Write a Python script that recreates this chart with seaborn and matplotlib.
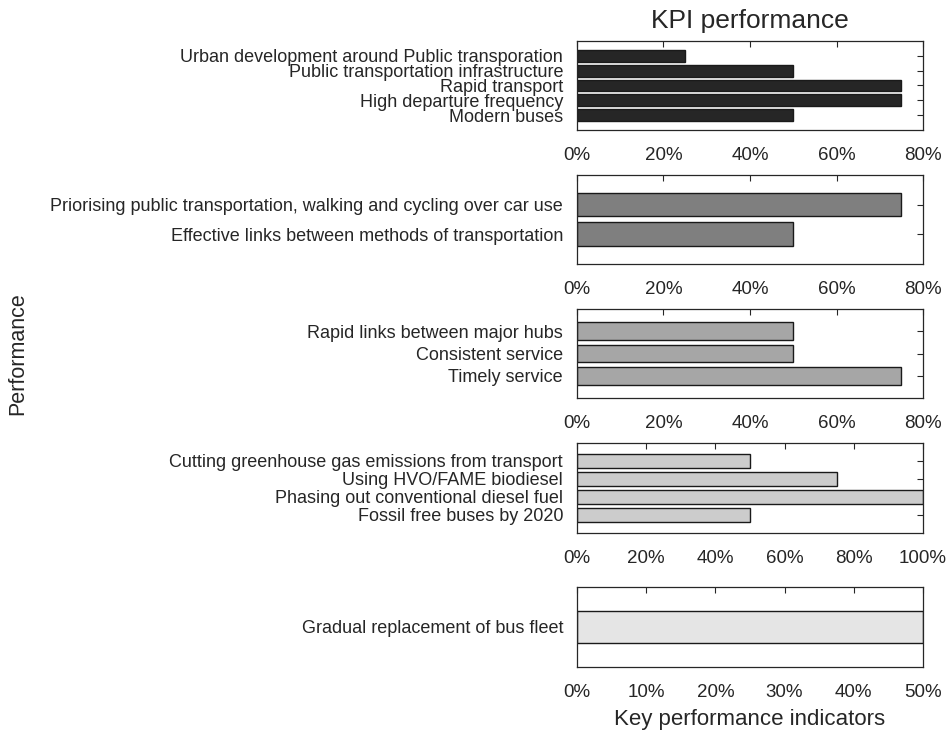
import numpy as np
import pandas as pd
import matplotlib
matplotlib.use("Agg")
import matplotlib.pyplot as plt
from matplotlib.ticker import PercentFormatter
import seaborn as sns

# ---- data ----
group1_labels = ["Urban development around Public transporation",
                 "Public transportation infrastructure",
                 "Rapid transport",
                 "High departure frequency",
                 "Modern buses"]
group1_values = [0.25, 0.50, 0.75, 0.75, 0.50]

group2_labels = ["Priorising public transportation, walking and cycling over car use",
                 "Effective links between methods of transportation"]
group2_values = [0.75, 0.50]

group3_labels = ["Rapid links between major hubs",
                 "Consistent service",
                 "Timely service"]
group3_values = [0.50, 0.50, 0.75]

group4_labels = ["Cutting greenhouse gas emissions from transport",
                 "Using HVO/FAME biodiesel",
                 "Phasing out conventional diesel fuel",
                 "Fossil free buses by 2020"]
group4_values = [0.50, 0.75, 1.00, 0.50]

group5_labels = ["Gradual replacement of bus fleet"]
group5_values = [0.50]

x_limits = [0.8, 0.8, 0.8, 1.0, 0.5]
x_steps = [0.2, 0.2, 0.2, 0.2, 0.1]
bar_colors = ["#262626", "#7f7f7f", "#a6a6a6", "#cccccc", "#e5e5e5"]

# ---- style ----
sns.set_style("white")
plt.rcParams["font.family"] = ["Liberation Sans", "DejaVu Sans"]

fig = plt.figure(figsize=(9.46, 7.31), dpi=100)

# axes boxes in figure fractions (left, bottom, width, height)
boxes = [
    (0.6099, 0.8222, 0.3658, 0.1218),
    (0.6099, 0.6389, 0.3658, 0.1218),
    (0.6099, 0.4555, 0.3658, 0.1218),
    (0.6099, 0.2709, 0.3658, 0.1231),
    (0.6099, 0.0876, 0.3658, 0.1094),
]

groups = [
    (group1_labels, group1_values),
    (group2_labels, group2_values),
    (group3_labels, group3_values),
    (group4_labels, group4_values),
    (group5_labels, group5_values),
]

axes = []
for i, (labels, values) in enumerate(groups):
    ax = fig.add_axes(boxes[i])
    df = pd.DataFrame({"label": labels, "value": values})
    sns.barplot(data=df, x="value", y="label", orient="h", ax=ax,
                color=bar_colors[i], saturation=1, width=0.8,
                edgecolor="#1a1a1a", linewidth=1.0)
    n = len(labels)
    ax.set_ylim(n, -1)
    ax.set_xlim(0, x_limits[i])
    ax.set_xticks(np.arange(0, x_limits[i] + 1e-9, x_steps[i]))
    ax.xaxis.set_major_formatter(PercentFormatter(1.0, decimals=0))
    ax.set_xlabel("")
    ax.set_ylabel("")
    ax.tick_params(axis="both", direction="in", length=4, width=0.8,
                   color="#262626", top=True, right=True,
                   labeltop=False, labelright=False)
    ax.tick_params(axis="x", pad=12, labelsize=13.5)
    ax.tick_params(axis="y", pad=10, labelsize=13)
    for sp in ax.spines.values():
        sp.set_color("#262626")
        sp.set_linewidth(0.9)
        sp.set_visible(True)
    axes.append(ax)

axes[0].set_title("KPI performance", fontsize=19, pad=9)
axes[-1].set_xlabel("Key performance indicators", fontsize=16, labelpad=6)
fig.text(0.019, 0.516, "Performance", rotation=90, fontsize=15.5,
         ha="center", va="center")

fig.savefig("out.png", dpi=100)
